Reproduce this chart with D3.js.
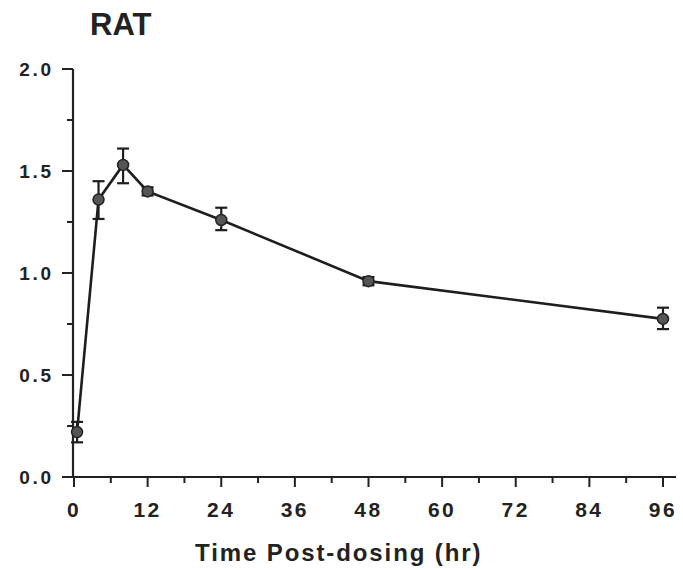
<!DOCTYPE html>
<html>
<head>
<meta charset="utf-8">
<script src="https://cdn.jsdelivr.net/npm/d3@7"></script>
<style>
  body { margin: 0; background: #fff; }
  svg { display: block; }
  text { font-family: "Liberation Sans", Arial, sans-serif; font-weight: bold; fill: #222; }
</style>
</head>
<body>
<svg id="chart" width="683" height="570"></svg>
<script>
// Data
const timesHr   = [0.5, 4, 8, 12, 24, 48, 96];
const meanVals  = [0.22, 1.36, 1.53, 1.40, 1.26, 0.96, 0.775];
const errLow    = [0.17, 1.265, 1.44, 1.38, 1.21, 0.94, 0.725];
const errHigh   = [0.27, 1.45, 1.61, 1.42, 1.32, 0.98, 0.83];
const xTickVals = [0, 12, 24, 36, 48, 60, 72, 84, 96];
const yTickVals = [0.0, 0.5, 1.0, 1.5, 2.0];
const titleText = "RAT";
const xLabelText = "Time Post-dosing (hr)";

const svg = d3.select("#chart");
const x = d3.scaleLinear().domain([0, 96]).range([74, 663]);
const y = d3.scaleLinear().domain([0, 2]).range([477, 69]);

// Title
svg.append("text").attr("x", 90).attr("y", 35)
  .style("font-size", "31px").text(titleText);

// X axis line
svg.append("line").attr("x1", 63).attr("x2", 676)
  .attr("y1", y(0)).attr("y2", y(0))
  .attr("stroke", "#222").attr("stroke-width", 2.2);
// Y axis line
svg.append("line").attr("x1", x(0) - 1).attr("x2", x(0) - 1)
  .attr("y1", y(2)).attr("y2", y(0))
  .attr("stroke", "#222").attr("stroke-width", 2.2);

// X ticks (major each 12, minor each 6)
const xMinor = d3.range(6, 96, 12);
svg.selectAll(".xmaj").data(xTickVals).join("line")
  .attr("x1", d => x(d)).attr("x2", d => x(d))
  .attr("y1", y(0)).attr("y2", y(0) + 10)
  .attr("stroke", "#222").attr("stroke-width", 2);
svg.selectAll(".xmin").data(xMinor).join("line")
  .attr("x1", d => x(d)).attr("x2", d => x(d))
  .attr("y1", y(0)).attr("y2", y(0) + 6)
  .attr("stroke", "#222").attr("stroke-width", 2);
svg.selectAll(".xlab").data(xTickVals).join("text")
  .attr("x", d => x(d)).attr("y", 517)
  .attr("text-anchor", "middle")
  .style("font-size", "21px").style("letter-spacing", "2.5px")
  .text(d => d);

// Y ticks
const yMinor = [0.25, 0.75, 1.25, 1.75];
svg.selectAll(".ymaj").data(yTickVals).join("line")
  .attr("x1", 62).attr("x2", x(0) - 1)
  .attr("y1", d => y(d)).attr("y2", d => y(d))
  .attr("stroke", "#222").attr("stroke-width", 2);
svg.selectAll(".ymin").data(yMinor).join("line")
  .attr("x1", 67).attr("x2", x(0) - 1)
  .attr("y1", d => y(d)).attr("y2", d => y(d))
  .attr("stroke", "#222").attr("stroke-width", 2);
svg.selectAll(".ylab").data(yTickVals).join("text")
  .attr("x", 54).attr("y", d => y(d) + 7)
  .attr("text-anchor", "end")
  .style("font-size", "19px").style("letter-spacing", "2.8px")
  .text(d => d.toFixed(1));

// X axis label
svg.append("text").attr("x", 195).attr("y", 561)
  .style("font-size", "24px").style("letter-spacing", "1.9px")
  .text(xLabelText);

// Data line
const pts = timesHr.map((t, i) => ({t, v: meanVals[i], lo: errLow[i], hi: errHigh[i]}));
svg.append("path").datum(pts)
  .attr("d", d3.line().x(d => x(d.t)).y(d => y(d.v)))
  .attr("fill", "none").attr("stroke", "#1e1e1e").attr("stroke-width", 2.6);

// Error bars
const cap = 6;
const eb = svg.append("g").attr("stroke", "#1e1e1e").attr("stroke-width", 2.2);
eb.selectAll(".v").data(pts).join("line")
  .attr("x1", d => x(d.t)).attr("x2", d => x(d.t))
  .attr("y1", d => y(d.lo)).attr("y2", d => y(d.hi));
eb.selectAll(".c1").data(pts).join("line")
  .attr("x1", d => x(d.t) - cap).attr("x2", d => x(d.t) + cap)
  .attr("y1", d => y(d.lo)).attr("y2", d => y(d.lo));
eb.selectAll(".c2").data(pts).join("line")
  .attr("x1", d => x(d.t) - cap).attr("x2", d => x(d.t) + cap)
  .attr("y1", d => y(d.hi)).attr("y2", d => y(d.hi));

// Markers
svg.selectAll(".pt").data(pts).join("circle")
  .attr("cx", d => x(d.t)).attr("cy", d => y(d.v)).attr("r", 5.5)
  .attr("fill", "#555").attr("stroke", "#222").attr("stroke-width", 1.5);
</script>
</body>
</html>
